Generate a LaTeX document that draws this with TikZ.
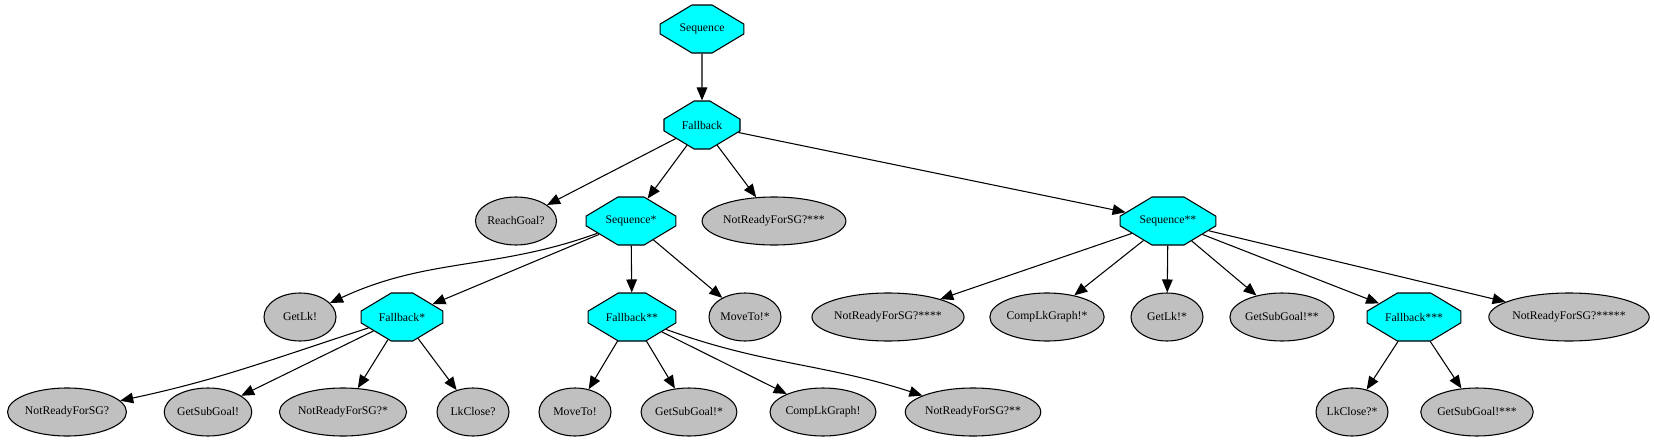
\documentclass[tikz,border=0pt]{standalone}
\usepackage{fontspec}
\setmainfont{Liberation Serif}
\usepackage{tikz}
\usetikzlibrary{arrows.meta,shapes.geometric,shapes.misc}
\definecolor{octfill}{HTML}{00FFFF}
\definecolor{leaffill}{HTML}{C0C0C0}
\tikzset{every node/.append style={font=\fontsize{8.8}{10}\selectfont}}

\begin{document}
\begin{tikzpicture}[x=.75pt,y=.75pt,>={Triangle[length=9.75pt,width=8pt]},
  ctrl/.style={chamfered rectangle,chamfered rectangle angle=59,chamfered rectangle xsep=17.6pt,
    chamfered rectangle ysep=10.5pt,draw,fill=octfill,line width=.8pt,inner xsep=8.2pt,
    inner ysep=0pt,minimum height=36pt},
  leaf/.style={ellipse,draw,fill=leaffill,line width=.8pt,inner sep=0pt,minimum width=54pt,minimum height=36pt},
  edge/.style={->,line width=.8pt}]
\useasboundingbox (0,0) rectangle (1654,-443);
% root and first fallback
\node[ctrl] (seq) at (702,-29) {Sequence};
\node[ctrl] (fb) at (702,-125) {Fallback};
% rank 2
\node[leaf] (rg) at (516,-221) {ReachGoal?};
\node[ctrl] (seqa) at (631,-221) {Sequence*};
\node[leaf] (nr3) at (774,-221) {NotReadyForSG?***};
\node[ctrl] (seqb) at (1168,-221) {Sequence**};
% rank 3
\node[leaf] (gl) at (300,-317) {GetLk!};
\node[ctrl] (fba) at (402,-317) {Fallback*};
\node[ctrl] (fbb) at (632,-317) {Fallback**};
\node[leaf] (mt1) at (745,-317) {MoveTo!*};
\node[leaf] (nr4) at (888,-317) {NotReadyForSG?****};
\node[leaf] (clg1) at (1047,-317) {CompLkGraph!*};
\node[leaf] (gl1) at (1167,-317) {GetLk!*};
\node[leaf] (gsg2) at (1282,-317) {GetSubGoal!**};
\node[ctrl] (fbc) at (1414,-317) {Fallback***};
\node[leaf] (nr5) at (1569,-317) {NotReadyForSG?*****};
% rank 4
\node[leaf] (nr0) at (67,-412) {NotReadyForSG?};
\node[leaf] (gsg0) at (208,-412) {GetSubGoal!};
\node[leaf] (nr1) at (343,-412) {NotReadyForSG?*};
\node[leaf] (lkc) at (473,-412) {LkClose?};
\node[leaf] (mt0) at (575,-412) {MoveTo!};
\node[leaf] (gsg1) at (689,-412) {GetSubGoal!*};
\node[leaf] (clg0) at (823,-412) {CompLkGraph!};
\node[leaf] (nr2) at (973,-412) {NotReadyForSG?**};
\node[leaf] (lkc1) at (1352,-412) {LkClose?*};
\node[leaf] (gsg3) at (1477,-412) {GetSubGoal!***};
% edges
\draw[edge] (seq)--(fb);
\draw[edge] (fb)--(rg);
\draw[edge] (fb)--(seqa);
\draw[edge] (fb)--(nr3);
\draw[edge] (fb)--(seqb);
\draw[edge] (seqa) to[out=200,in=25] (gl);
\draw[edge] (seqa)--(fba);
\draw[edge] (seqa)--(fbb);
\draw[edge] (seqa)--(mt1);
\draw[edge] (fba) to[out=198,in=12] (nr0);
\draw[edge] (fba)--(gsg0);
\draw[edge] (fba)--(nr1);
\draw[edge] (fba)--(lkc);
\draw[edge] (fbb)--(mt0);
\draw[edge] (fbb)--(gsg1);
\draw[edge] (fbb)--(clg0);
\draw[edge] (fbb) to[out=-20,in=162] (nr2);
\draw[edge] (seqb)--(nr4);
\draw[edge] (seqb)--(clg1);
\draw[edge] (seqb)--(gl1);
\draw[edge] (seqb)--(gsg2);
\draw[edge] (seqb)--(fbc);
\draw[edge] (seqb)--(nr5);
\draw[edge] (fbc)--(lkc1);
\draw[edge] (fbc)--(gsg3);
\end{tikzpicture}
\end{document}
